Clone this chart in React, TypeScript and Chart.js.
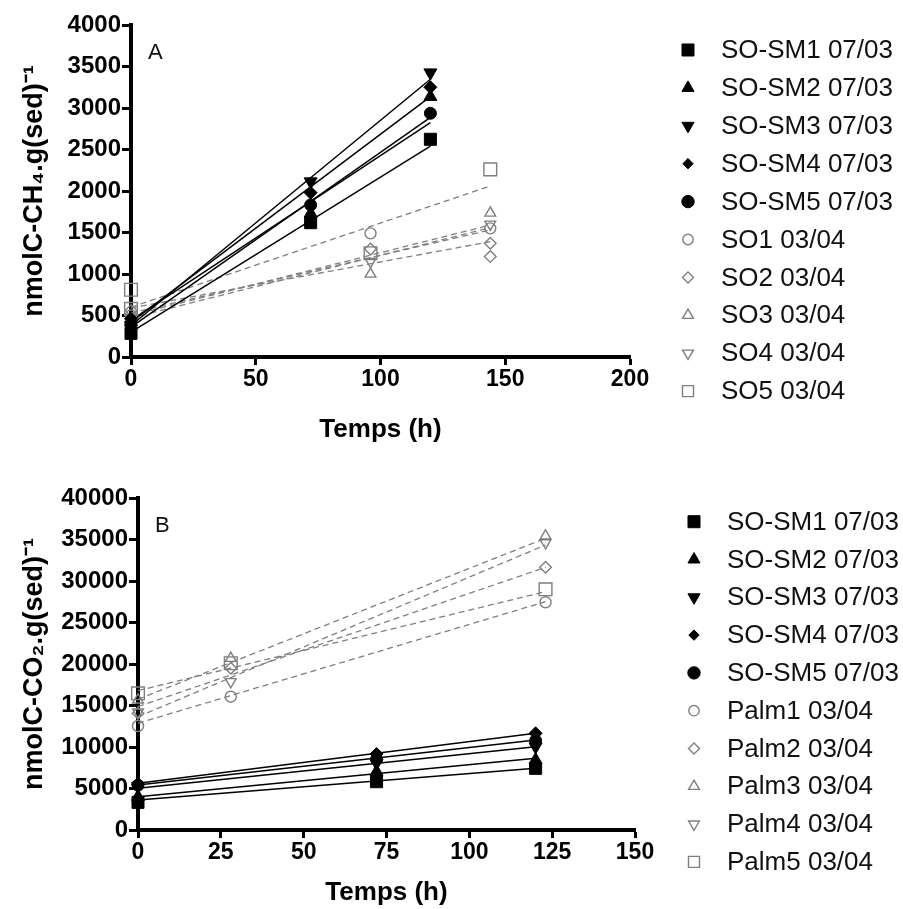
import React, { useEffect, useRef } from 'react';
import { Chart, registerables } from 'chart.js';
import { drawPoint } from 'chart.js/helpers';

Chart.register(...registerables);

const BLACK = '#000000';
const GRAY = '#7f7f7f';
const FONT = '"Liberation Sans", Arial, Helvetica, sans-serif';

// ---------- Panel A (CH4) ----------
const A_TIME_SM = [0, 72, 120];
const A_SM1 = [285, 1618, 2623];
const A_SM2 = [420, 1730, 3137];
const A_SM3 = [380, 2113, 3426];
const A_SM4 = [460, 1980, 3250];
const A_SM5 = [400, 1832, 2936];

const A_TIME_SO = [0, 96, 144];
const A_SO1 = [500, 1490, 1550];
const A_SO2_X = [0, 96, 144, 144];
const A_SO2 = [560, 1300, 1370, 1210];
const A_SO3 = [450, 1000, 1735];
const A_SO4 = [470, 1150, 1600];
const A_SO5_X = [0, 0, 96, 144];
const A_SO5 = [810, 580, 1250, 2261];

const A_FIT_SM_X = [0, 120];
const A_FIT_SM_START = [300, 440, 380, 420, 360];
const A_FIT_SM_END = [2542, 2823, 3346, 3137, 2888];
const A_FIT_SO_X = [0, 144];
const A_FIT_SO_START = [500, 590, 470, 530, 600];
const A_FIT_SO_END = [1590, 1390, 1558, 1530, 2060];

const A_LABELS_SM = ['SO-SM1 07/03', 'SO-SM2 07/03', 'SO-SM3 07/03', 'SO-SM4 07/03', 'SO-SM5 07/03'];
const A_LABELS_SO = ['SO1 03/04', 'SO2 03/04', 'SO3 03/04', 'SO4 03/04', 'SO5 03/04'];

// ---------- Panel B (CO2) ----------
const B_TIME_SM = [0, 72, 120];
const B_SM1 = [3330, 5820, 7430];
const B_SM2 = [4010, 7030, 8435];
const B_SM3 = [5280, 8070, 10040];
const B_SM4 = [5500, 9160, 11650];
const B_SM5 = [5400, 8520, 10760];

const B_TIME_P = [0, 28, 123];
const B_P1 = [12530, 16060, 27440];
const B_P2 = [14060, 19490, 31650];
const B_P3 = [15670, 20690, 35430];
const B_P4 = [14200, 17870, 34600];
const B_P5 = [16470, 20090, 29000];

const B_FIT_SM_X = [0, 120];
const B_FIT_SM_START = [3610, 4010, 5020, 5620, 5420];
const B_FIT_SM_END = [7430, 8640, 10040, 11650, 10840];
const B_FIT_P_X = [0, 123];
const B_FIT_P_START = [12860, 14860, 15750, 13650, 16790];
const B_FIT_P_END = [27510, 31650, 35150, 34340, 28720];

const B_LABELS_SM = ['SO-SM1 07/03', 'SO-SM2 07/03', 'SO-SM3 07/03', 'SO-SM4 07/03', 'SO-SM5 07/03'];
const B_LABELS_P = ['Palm1 03/04', 'Palm2 03/04', 'Palm3 03/04', 'Palm4 03/04', 'Palm5 03/04'];

// axes
const A_X_MAX = 200, A_X_STEP = 50, A_Y_MAX = 4000, A_Y_STEP = 500;
const B_X_MAX = 150, B_X_STEP = 25, B_Y_MAX = 40000, B_Y_STEP = 5000;

// marker styles, order: square, triangle, down-triangle, diamond, circle
const BLACK_STYLES = ['rect', 'triangle', 'triangle', 'rectRot', 'circle'];
const BLACK_ROT = [0, 0, 180, 0, 0];
const BLACK_R = [8.5, 7.5, 7.5, 6.5, 6];
const BLACK_LEG_R = [8.5, 7, 7, 5.2, 6.2];
// gray order: circle, diamond, triangle, down-triangle, square
const GRAY_STYLES = ['circle', 'rectRot', 'triangle', 'triangle', 'rect'];
const GRAY_ROT = [0, 0, 0, 180, 0];
const GRAY_R = [5.5, 5.8, 6.2, 6.2, 9];
const GRAY_LEG_R = [5.2, 5.5, 6.2, 6.2, 7.8];

const zip = (xs: number[], ys: number[]) => ys.map((y, i) => ({ x: xs[i], y }));

function pointSet(label: string, xs: number[], ys: number[], filled: boolean, style: string, rot: number, r: number, legR: number) {
  return {
    type: 'scatter',
    label,
    data: zip(xs, ys),
    showLine: false,
    pointStyle: style,
    rotation: rot,
    pointRadius: r,
    pointHoverRadius: r,
    backgroundColor: filled ? BLACK : 'rgba(0,0,0,0)',
    borderColor: filled ? BLACK : GRAY,
    pointBorderWidth: filled ? 1 : 1.4,
    borderWidth: filled ? 1 : 1.4,
    order: 0,
    clip: false,
    legendRadius: legR,
    isPoints: true,
  } as any;
}

function fitSet(xr: number[], y0: number, y1: number, gray: boolean) {
  return {
    type: 'line',
    label: '',
    data: [{ x: xr[0], y: y0 }, { x: xr[1], y: y1 }],
    borderColor: gray ? GRAY : BLACK,
    borderWidth: gray ? 1.3 : 1.5,
    borderDash: gray ? [6, 4] : [],
    pointRadius: 0,
    fill: false,
    order: 1,
    clip: false,
    isPoints: false,
  } as any;
}

function sideLegend(letter: string, markerX: number, textX: number, y0: number, dy: number, letterDx: number, letterDy: number) {
  return {
    id: 'sideLegend' + letter,
    afterDraw(chart: any) {
      const { ctx, chartArea } = chart;
      ctx.save();
      const items = chart.data.datasets.filter((d: any) => d.isPoints);
      items.forEach((d: any, i: number) => {
        const y = y0 + i * dy;
        ctx.fillStyle = d.backgroundColor;
        ctx.strokeStyle = d.borderColor;
        ctx.lineWidth = d.borderWidth;
        ctx.setLineDash([]);
        drawPoint(ctx, { pointStyle: d.pointStyle, rotation: d.rotation, radius: d.legendRadius, borderWidth: d.borderWidth }, markerX, y);
        ctx.fillStyle = '#111111';
        ctx.font = '26px ' + FONT;
        ctx.textAlign = 'left';
        ctx.textBaseline = 'middle';
        ctx.fillText(d.label, textX, y + 1);
      });
      ctx.fillStyle = '#111111';
      ctx.font = '22px ' + FONT;
      ctx.textAlign = 'left';
      ctx.textBaseline = 'alphabetic';
      ctx.fillText(letter, chartArea.left + letterDx, chartArea.top + letterDy);
      ctx.restore();
    },
  };
}

const plainTick = (v: any) => String(v);

function buildConfig(p: any) {
  return {
    type: 'scatter',
    data: { datasets: p.datasets },
    options: {
      responsive: false,
      animation: false,
      events: [],
      layout: { padding: { left: 0, top: p.top, right: p.right, bottom: 0 } },
      plugins: { legend: { display: false }, tooltip: { enabled: false } },
      scales: {
        x: {
          type: 'linear',
          min: 0,
          max: p.xMax,
          afterFit: (s: any) => { s.height = p.xHeight; },
          ticks: { stepSize: p.xStep, callback: plainTick, color: BLACK, font: { family: FONT, size: 23, weight: 'bold' }, padding: 1, maxRotation: 0, autoSkip: false },
          grid: { display: true, drawOnChartArea: false, tickLength: 8, tickWidth: 3, tickColor: BLACK },
          border: { display: true, color: BLACK, width: 4 },
          title: { display: true, text: 'Temps (h)', color: BLACK, font: { family: FONT, size: 26, weight: 'bold' }, padding: { top: 0, bottom: p.xTitlePad } },
        },
        y: {
          type: 'linear',
          min: 0,
          max: p.yMax,
          afterFit: (s: any) => { s.width = p.yWidth; },
          ticks: { stepSize: p.yStep, callback: plainTick, color: BLACK, font: { family: FONT, size: 24, weight: 'bold' }, padding: 1, autoSkip: false },
          grid: { display: true, drawOnChartArea: false, tickLength: 9, tickWidth: 3, tickColor: BLACK },
          border: { display: true, color: BLACK, width: 4 },
          title: { display: true, text: p.yTitle, color: BLACK, font: { family: FONT, size: 27, weight: 'bold' }, padding: { top: p.yTitlePad, bottom: 0 } },
        },
      },
    },
    plugins: [sideLegend(p.letter, p.markerX, p.textX, p.legY0, p.legDy, 17, 34)],
  } as any;
}

function panelA() {
  const sm = [A_SM1, A_SM2, A_SM3, A_SM4, A_SM5];
  const soX = [A_TIME_SO, A_SO2_X, A_TIME_SO, A_TIME_SO, A_SO5_X];
  const so = [A_SO1, A_SO2, A_SO3, A_SO4, A_SO5];
  const ds: any[] = [];
  sm.forEach((v, i) => ds.push(pointSet(A_LABELS_SM[i], A_TIME_SM, v, true, BLACK_STYLES[i], BLACK_ROT[i], BLACK_R[i], BLACK_LEG_R[i])));
  so.forEach((v, i) => ds.push(pointSet(A_LABELS_SO[i], soX[i], v, false, GRAY_STYLES[i], GRAY_ROT[i], GRAY_R[i], GRAY_LEG_R[i])));
  A_FIT_SM_START.forEach((s, i) => ds.push(fitSet(A_FIT_SM_X, s, A_FIT_SM_END[i], false)));
  A_FIT_SO_START.forEach((s, i) => ds.push(fitSet(A_FIT_SO_X, s, A_FIT_SO_END[i], true)));
  return buildConfig({
    datasets: ds, top: 25, right: 273, xMax: A_X_MAX, xStep: A_X_STEP, yMax: A_Y_MAX, yStep: A_Y_STEP,
    xHeight: 93, yWidth: 131, xTitlePad: 5, yTitlePad: 18,
    yTitle: 'nmolC-CH\u2084.g(sed)\u207B\u00B9', letter: 'A', markerX: 688, textX: 721, legY0: 50, legDy: 37.9,
  });
}

function panelB() {
  const sm = [B_SM1, B_SM2, B_SM3, B_SM4, B_SM5];
  const pv = [B_P1, B_P2, B_P3, B_P4, B_P5];
  const ds: any[] = [];
  sm.forEach((v, i) => ds.push(pointSet(B_LABELS_SM[i], B_TIME_SM, v, true, BLACK_STYLES[i], BLACK_ROT[i], BLACK_R[i], BLACK_LEG_R[i])));
  pv.forEach((v, i) => ds.push(pointSet(B_LABELS_P[i], B_TIME_P, v, false, GRAY_STYLES[i], GRAY_ROT[i], GRAY_R[i], GRAY_LEG_R[i])));
  B_FIT_SM_START.forEach((s, i) => ds.push(fitSet(B_FIT_SM_X, s, B_FIT_SM_END[i], false)));
  B_FIT_P_START.forEach((s, i) => ds.push(fitSet(B_FIT_P_X, s, B_FIT_P_END[i], true)));
  return buildConfig({
    datasets: ds, top: 48, right: 268, xMax: B_X_MAX, xStep: B_X_STEP, yMax: B_Y_MAX, yStep: B_Y_STEP,
    xHeight: 79, yWidth: 138, xTitlePad: 1, yTitlePad: 18,
    yTitle: 'nmolC-CO\u2082.g(sed)\u207B\u00B9', letter: 'B', markerX: 694, textX: 727, legY0: 71.7, legDy: 37.8,
  });
}

function ChartCanvas({ width, height, make }: { width: number; height: number; make: () => any }) {
  const ref = useRef<HTMLCanvasElement | null>(null);
  useEffect(() => {
    if (!ref.current) return;
    const chart = new Chart(ref.current, make());
    return () => chart.destroy();
  }, []);
  return <canvas ref={ref} width={width} height={height} style={{ display: 'block', width, height }} />;
}

export default function App() {
  useEffect(() => {
    document.body.style.margin = '0';
    document.body.style.background = '#ffffff';
  }, []);
  return (
    <div style={{ width: 903, height: 909, background: '#fff' }}>
      <ChartCanvas width={903} height={450} make={panelA} />
      <ChartCanvas width={903} height={459} make={panelB} />
    </div>
  );
}
